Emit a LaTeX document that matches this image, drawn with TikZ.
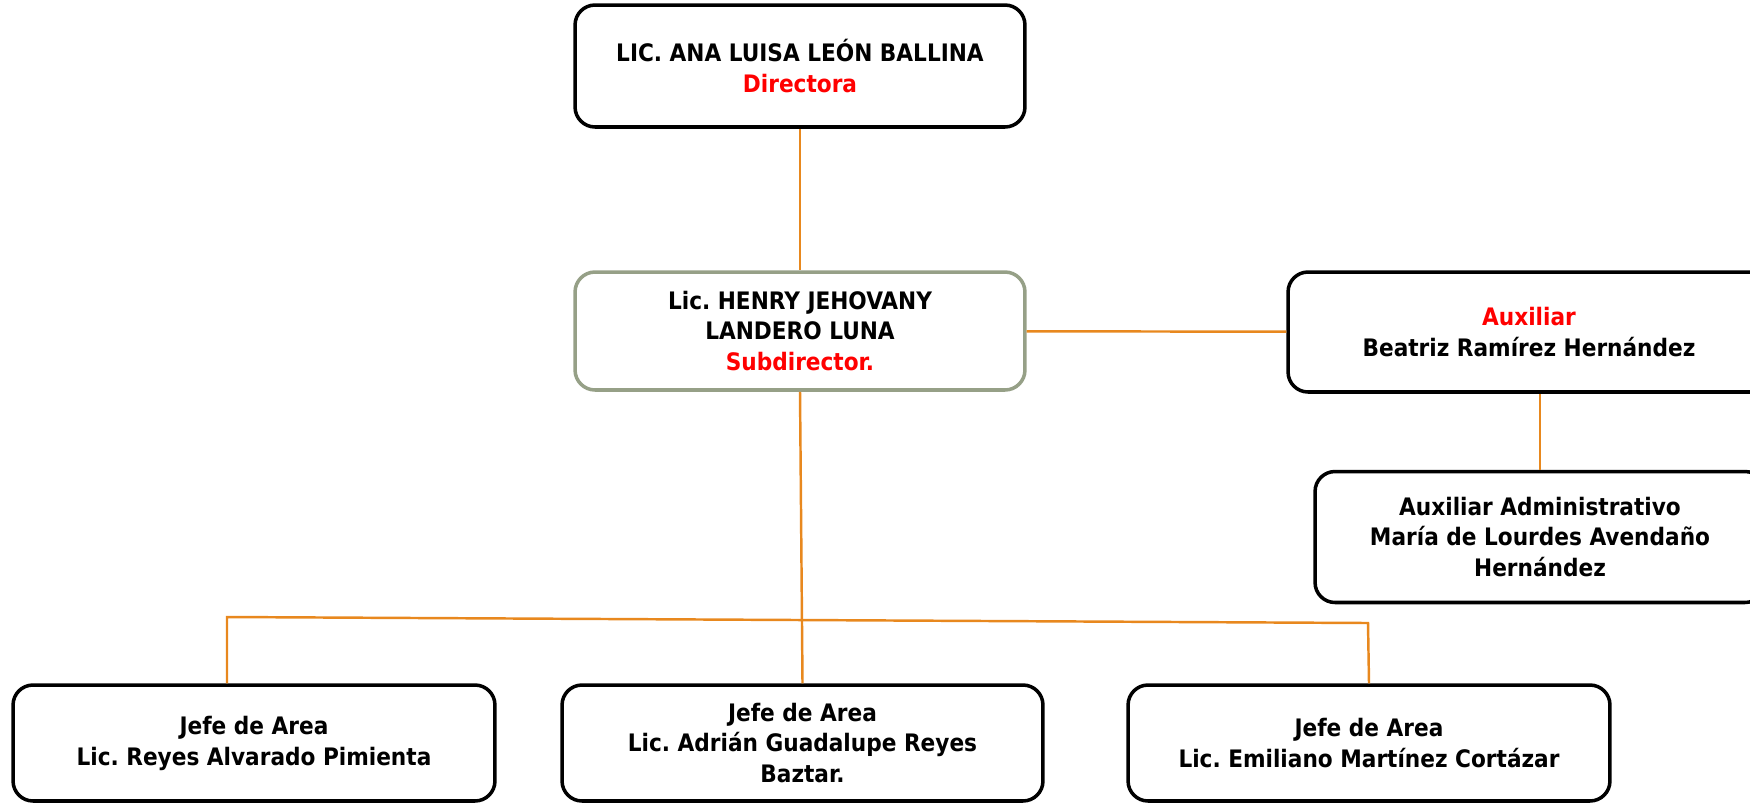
\documentclass[tikz,border=0pt]{standalone}
\usepackage{fontspec}
\setmainfont{DejaVu Sans Condensed}
\usepackage{tikz}
\usetikzlibrary{calc,positioning}
\definecolor{orglink}{RGB}{232,136,30}
\definecolor{orgsage}{RGB}{150,160,135}
\definecolor{orgred}{RGB}{255,0,0}
\frenchspacing

\begin{document}
\begin{tikzpicture}[x=0.02cm, y=-0.02cm,
    org box/.style={draw=black, line width=2pt, rounded corners=0.4cm, align=center, font=\fontsize{13.7}{17.6}\selectfont\bfseries, inner sep=0pt, minimum width=9cm, minimum height=2.4cm},
    sub box/.style={org box, draw=orgsage},
    link/.style={draw=orglink, line width=1.4pt}
  ]
  \useasboundingbox (0,0) rectangle (1750,802);
  \node [org box, minimum height=2.44cm] (dir) at (800,66) {LIC. ANA LUISA LEÓN BALLINA\\\textcolor{orgred}{Directora}};
  \node [sub box, minimum height=2.36cm] (sub) at (800,331) {Lic. HENRY JEHOVANY\\LANDERO LUNA\\\textcolor{orgred}{Subdirector.}};
  \node [org box, minimum width=9.64cm] (aux) at (1529,332) {\textcolor{orgred}{Auxiliar}\\Beatriz Ramírez Hernández};
  \node [org box, minimum height=2.62cm] (auxadm) at (1540,537) {Auxiliar Administrativo\\María de Lourdes Avendaño\\Hernández};
  \node [org box, minimum width=9.64cm, minimum height=2.32cm] (jefe1) at (254,743) {Jefe de Area\\Lic. Reyes Alvarado Pimienta};
  \node [org box, minimum width=9.62cm, minimum height=2.32cm] (jefe2) at (802.5,743) {Jefe de Area\\Lic. Adrián Guadalupe Reyes\\Baztar.};
  \node [org box, minimum width=9.64cm, minimum height=2.32cm] (jefe3) at (1369,743) {Jefe de Area\\Lic. Emiliano Martínez Cortázar};
  \coordinate (busL) at (227,617);
  \coordinate (busR) at (1368,623);

  \begin{scope}[every path/.style={link}]
  \path (dir) -- (sub);
  \path (sub) -- (aux);
  \path (auxadm.north) -- (auxadm.north |- aux.south);
  \path (sub.south) -- (jefe2.north);
  \path (jefe1.north -| busL) -- (busL) -- (busR) -- (jefe3.north);
  \end{scope}
\end{tikzpicture}
\end{document}
